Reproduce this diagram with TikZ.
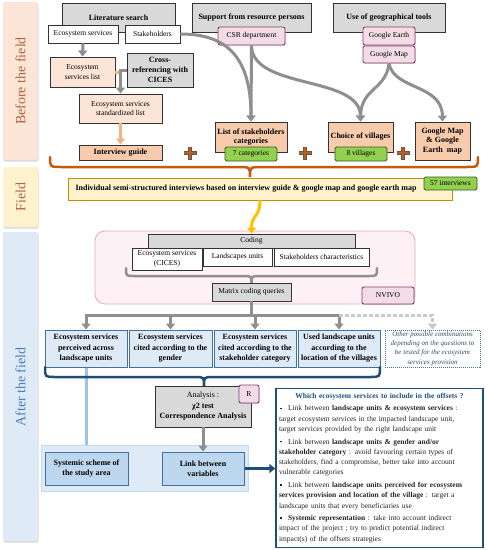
\documentclass[tikz,border=0pt]{standalone}
\usepackage{fontspec}
\setmainfont{Liberation Serif}
\usetikzlibrary{arrows.meta,shadows}

\definecolor{tabpeach}{HTML}{FBE5D6}
\definecolor{tabyellow}{HTML}{FFF2CC}
\definecolor{tabblue}{HTML}{DEEBF7}
\definecolor{rust}{HTML}{B0643F}
\definecolor{steelblue}{HTML}{4A7EBB}
\definecolor{boxgray}{HTML}{D9D9D9}
\definecolor{peachlight}{HTML}{FCE4D6}
\definecolor{peach}{HTML}{F8CBAD}
\definecolor{pinkfill}{HTML}{F2DCE6}
\definecolor{plum}{HTML}{8E3B6F}
\definecolor{leaf}{HTML}{92D050}
\definecolor{leafdark}{HTML}{3A5A1E}
\definecolor{skymid}{HTML}{BDD7EE}
\definecolor{navy}{HTML}{1F4E79}
\definecolor{frameblue}{HTML}{41719C}
\definecolor{arrowgray}{HTML}{8F8F8F}
\definecolor{dashgray}{HTML}{C9C9C9}
\definecolor{burnt}{HTML}{C55A11}
\definecolor{lightorange}{HTML}{F4B183}
\definecolor{gold}{HTML}{FFC000}
\definecolor{goldframe}{HTML}{BF9000}
\definecolor{nvivofill}{HTML}{FDF1F5}
\definecolor{nvivoframe}{HTML}{E8A9C5}
\definecolor{paleblue}{HTML}{9DC3E6}
\definecolor{slate}{HTML}{3B4A5C}

\tikzset{
  wh/.style 2 args={minimum width=#1pt, minimum height=#2pt},
  soft/.style={drop shadow={shadow xshift=0.8pt, shadow yshift=-0.9pt, opacity=0.25}},
  base/.style={draw=black!80, line width=0.9pt, align=center, inner sep=1pt,
    font=\fontsize{7.5}{9.5}\selectfont},
  boldbase/.style={base, font=\fontsize{8}{9.8}\selectfont\bfseries},
  graybox/.style={boldbase, fill=boxgray, soft},
  whitebox/.style={base, fill=white, soft},
  peachbox/.style={base, fill=peachlight, soft},
  guidebox/.style={boldbase, fill=peach, soft},
  pinkbox/.style={base, draw=plum, fill=pinkfill, rounded corners=2pt, soft},
  greenbox/.style={base, draw=leafdark, fill=leaf, rounded corners=1.5pt},
  bluebox/.style={boldbase, draw=frameblue, fill=tabblue, line width=1pt,
    font=\fontsize{8}{10.5}\selectfont\bfseries, soft},
  tab/.style={rounded corners=2pt, drop shadow={shadow xshift=0.5pt, shadow yshift=-1.5pt, opacity=0.3}},
  tablabel/.style={rotate=90, font=\fontsize{14}{14}\selectfont},
  grayline/.style={draw=arrowgray, line width=3pt},
  grayarrow/.style={grayline, -{Triangle[length=6pt,width=9pt]}},
  orangearrow/.style={draw=lightorange, line width=3pt, -{Triangle[length=6pt,width=9pt]}},
  brace/.style={line width=2.5pt, line cap=round},
}

\newcommand{\offsetitem}[1]{\par\hangindent=9pt\hangafter=0\noindent
  \llap{\raisebox{1.6pt}{\rule{1.8pt}{1.8pt}}\hspace{6pt}}#1\par}

\begin{document}
\begin{tikzpicture}[x=1pt,y=-1pt]
\useasboundingbox (0,0) rectangle (488,550);
\fill[white] (0,0) rectangle (488,550);
%
% side tabs
\fill[tab, tabpeach] (3,2) rectangle (38,160);
\fill[tab, tabyellow] (3,167) rectangle (38,227);
\fill[tab, tabblue] (3,232) rectangle (38,541);
\node[tablabel, text=rust] (beforelbl) at (20.5,81) {Before the field};
\node[tablabel, text=rust] (fieldlbl) at (20.5,197) {Field};
\node[tablabel, text=steelblue] (afterlbl) at (20.5,387) {After the field};
%
% before the field
\node[graybox, wh={113}{29}] (lit) at (118.5,17.5) {Literature search};
\node[whitebox, wh={70}{18}] (litES) at (83,34) {Ecosystem services};
\node[whitebox, wh={55}{18}] (litStk) at (152.5,34) {Stakeholders};
\node[graybox, wh={119}{29}] (support) at (251.5,17.5) {Support from resource persons};
\node[pinkbox, wh={67}{18}] (csr) at (251.5,36) {CSR department};
\node[graybox, wh={112}{29}] (geo) at (389,17.5) {Use of geographical tools};
\node[pinkbox, wh={52}{18}] (gearth) at (389,36) {Google Earth};
\node[pinkbox, wh={52}{17}] (gmap) at (389,54.5) {Google Map};
%
\node[peachbox, wh={65}{30}] (eslist) at (82.5,72) {Ecosystem\\services list};
\node[graybox, wh={66}{34}] (crossref) at (160,70) {Cross-\\referencing with\\CICES};
\node[peachbox, wh={83}{29}] (stdlist) at (120.5,108.5) {Ecosystem services\\standardized list};
\node[guidebox, wh={83}{15}] (guide) at (120.5,152.5) {Interview guide};
\node[guidebox, wh={72}{30}] (catlist) at (251,137) {List of stakeholders\\categories};
\node[greenbox, wh={52}{14}] (catnum) at (251,154) {7 categories};
\node[guidebox, wh={65}{30}] (villages) at (360.5,137) {Choice of villages};
\node[greenbox, wh={52}{14}] (villnum) at (361,154) {8 villages};
\node[guidebox, wh={55}{38}] (gemap) at (442.5,141) {Google Map\\\& Google\\Earth~ map};
%
\draw[grayarrow] (litES.south) -- (eslist.north);
\draw[draw=lightorange, line width=3pt] (eslist.east) -- (eslist.east -| stdlist.north);
\draw[grayarrow] (crossref.west) -| (stdlist.north);
\draw[orangearrow] (stdlist.south) -- (guide.north);
\draw[grayarrow] (litStk.east) .. controls (225,34) and (251,55) .. (catlist.north);
\draw[grayarrow] (csr.south) -- (catlist.north);
\draw[grayarrow] (csr.south) .. controls (252,90) and (360,75) .. (villages.north);
\draw[grayarrow] (gmap.south) .. controls (386,90) and (361,88) .. (villages.north);
\draw[grayarrow] (gmap.south) .. controls (394,90) and (442,84) .. (gemap.north);
%
\newcommand{\plusmark}[2]{
  \draw[line width=4.4pt, black!65] (#1-6.5,#2) -- (#1+6.5,#2) (#1,#2-6.5) -- (#1,#2+6.5);
  \draw[line width=2.8pt, burnt] (#1-5.8,#2) -- (#1+5.8,#2) (#1,#2-5.8) -- (#1,#2+5.8);
}
\plusmark{190}{153}
\plusmark{305}{153}
\plusmark{403}{153}
%
\draw[brace, burnt] (50,157) .. controls (50,167) .. (62,167) -- (238,167)
  .. controls (250,167) .. (250,177) .. controls (250,167) .. (262,167)
  -- (466,167) .. controls (478,167) .. (478,157);
%
% field
\node[boldbase, draw=goldframe, fill=tabyellow, wh={384}{22}, soft] (field) at (260,189)
  {Individual semi-structured interviews based on interview guide \& google map and google earth map\hspace*{28pt}};
\node[greenbox, wh={53}{13}] (intnum) at (450.5,183.5) {57 interviews};
%
% after the field
\draw[nvivoframe, fill=nvivofill, line width=0.8pt, rounded corners=10pt] (95,231) rectangle (415,304);
\node[base, fill=boxgray, wh={207}{14}, soft] (coding) at (251.5,241) {Coding};
\node[whitebox, wh={70}{22}] (codES) at (167,259) {Ecosystem services\\(CICES)};
\node[whitebox, wh={69}{18}] (codLU) at (237.5,257) {Landscapes units};
\node[whitebox, wh={95}{18}] (codSC) at (321.5,257) {Stakeholders characteristics};
\draw[brace, arrowgray] (126,268) .. controls (126,276) .. (134,276) -- (243,276)
  .. controls (251.5,276) .. (251.5,284) .. controls (251.5,276) .. (260,276)
  -- (369,276) .. controls (377,276) .. (377,268);
\node[base, fill=boxgray, wh={79}{18}, soft] (matrixq) at (251.5,292) {Matrix coding queries};
\node[pinkbox, wh={52}{17}] (nvivo) at (388,295.5) {NVIVO};
\draw[orangearrow, draw=gold] (field.south) .. controls (260,218) and (251.5,214) .. (coding.north);
%
\node[bluebox, wh={82}{37}] (esland) at (86,348.5) {Ecosystem services\\perceived across\\landscape units};
\node[bluebox, wh={83}{37}] (esgender) at (170.5,348.5) {Ecosystem services\\cited according to the\\gender};
\node[bluebox, wh={82}{37}] (esstake) at (255,348.5) {Ecosystem services\\cited according to the\\stakeholder category};
\node[bluebox, wh={82}{37}] (luvill) at (339,348.5) {Used landscape units\\according to the\\location of the villages};
\node[base, draw=frameblue, line width=0.7pt, dash pattern=on 1pt off 1pt, fill=white,
  wh={95}{37}, font=\fontsize{7}{9.4}\selectfont\itshape, text=slate] (other) at (432.5,348.5)
  {Other possible combinations\\depending on the questions to\\be tested for the ecosystem\\services provision};
%
\coordinate (hub) at (251.5,315);
\draw[grayline] (matrixq.south) -- (hub);
\foreach \t in {esland,esgender,esstake,luvill}
  \draw[grayarrow] (hub) -| (\t.north);
\draw[draw=dashgray, line width=3pt, dash pattern=on 4pt off 2pt, -{Triangle[length=6pt,width=9pt]}]
  (hub -| luvill) -| (other.north);
%
\draw[line width=3pt, draw=paleblue, -{Triangle[length=6pt,width=9pt]}] (esland.south) -- (86,451);
\draw[brace, navy] (45,367) .. controls (45,377) .. (55,377) -- (195,377)
  .. controls (204,377) .. (204,386) .. controls (204,377) .. (213,377)
  -- (370,377) .. controls (380,377) .. (380,367);
%
\node[base, fill=boxgray, wh={96}{41}, font=\fontsize{8}{10.5}\selectfont, soft] (analysis) at (203,406.5)
  {Analysis :\\\textbf{χ2 test}\\\textbf{Correspondence Analysis}};
\node[pinkbox, wh={20}{18}] (rbox) at (249,394) {R};
%
\draw[draw=paleblue!60, fill=tabblue, line width=0.8pt] (41,445) rectangle (248,491);
\node[bluebox, fill=skymid, wh={83}{33}, font=\fontsize{8}{10}\selectfont\bfseries] (systemic) at (86.5,468.5) {Systemic scheme of\\the study area};
\node[bluebox, fill=skymid, wh={82}{33}, font=\fontsize{8}{10}\selectfont\bfseries] (linkvar) at (203,468.5) {Link between\\variables};
\draw[grayarrow] (analysis.south) -- (linkvar.north);
%
\node[draw=navy, line width=1.4pt, fill=white, wh={207}{159}, inner xsep=3pt, inner ysep=2pt,
  text width=201pt, align=left, font=\fontsize{7.5}{10.3}\selectfont, text=black!85, soft] (offsets) at (379.5,468)
  {\setlength{\parskip}{2.2pt}%
  {\centering\color{navy}\bfseries Which ecosystem services to include in the offsets ?\par}
  \offsetitem{Link between \textbf{landscape units \& ecosystem services} :\\
    target ecosystem services in the impacted landscape unit,\\
    target services provided by the right landscape unit}
  \offsetitem{Link between \textbf{landscape units \& gender and/or}\\
    \textbf{stakeholder category} : avoid favouring certain types of\\
    stakeholders, find a compromise, better take into account\\
    vulnerable categories}
  \offsetitem{Link between \textbf{landscape units perceived for ecosystem}\\
    \textbf{services provision and location of the village} : target a\\
    landscape units that every beneficiaries use}
  \offsetitem{\textbf{Systemic representation} : take into account indirect\\
    impact of the project ; try to predict potential indirect\\
    impact(s) of the offsets strategies}};
\draw[line width=3pt, draw=navy, -{Triangle[length=6pt,width=9pt]}] (linkvar.east) -- (linkvar.east -| offsets.west);
%
\end{tikzpicture}
\end{document}
